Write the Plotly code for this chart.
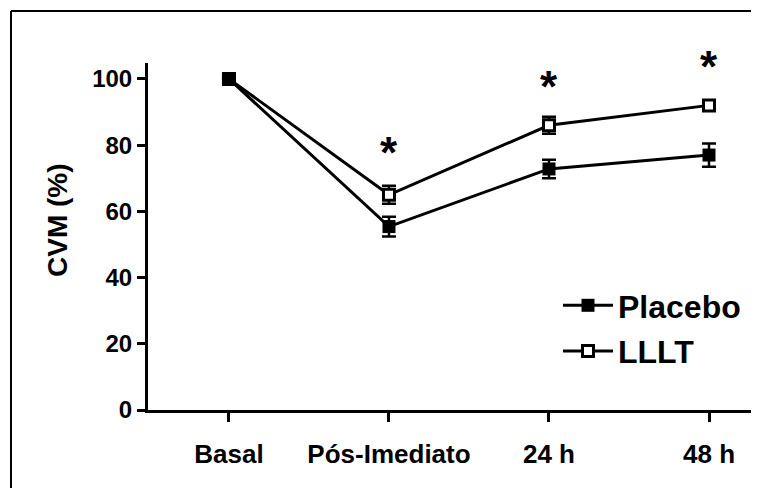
import plotly.graph_objects as go

categories = ["Basal", "Pós-Imediato", "24 h", "48 h"]
placebo = [100, 55.4, 72.8, 77.0]
placebo_err = [0, 3.0, 2.8, 3.5]
lllt = [100, 65.0, 86.0, 92.0]
lllt_err = [0, 2.7, 2.6, 1.2]
star_pos = [1, 2, 3]
star_y = [79.2, 99.2, 105.2]
y_title = "CVM (%)"

FONT = "Arial, Liberation Sans, sans-serif"
xs = list(range(len(categories)))
YMAX = 104.8

fig = go.Figure()
fig.add_trace(go.Scatter(
    x=xs, y=lllt, name="LLLT", mode="lines+markers",
    line=dict(color="black", width=3),
    marker=dict(symbol="square", size=11, color="white", line=dict(color="black", width=3)),
    error_y=dict(type="data", array=lllt_err, color="black", thickness=2.5, width=7),
    legendrank=2, legendgroup="b",
))
fig.add_trace(go.Scatter(
    x=xs, y=placebo, name="Placebo", mode="lines+markers",
    line=dict(color="black", width=3),
    marker=dict(symbol="square", size=13, color="black", line=dict(color="black", width=0)),
    error_y=dict(type="data", array=placebo_err, color="black", thickness=2.5, width=7),
    legendrank=1, legendgroup="a",
))

for xi, yi in zip(star_pos, star_y):
    fig.add_annotation(x=xi, xref="x", y=(yi - 1.5) / YMAX, yref="y domain",
                       text="<b>*</b>", showarrow=False,
                       font=dict(family=FONT, size=44, color="black"),
                       xanchor="center", yanchor="middle")

# page body margin (8px) shifts the figure; work in reference pixel coordinates
OFF = 8
W, H = 759, 488
plot_l, plot_r, plot_t, plot_b = 148 - OFF, 755 - OFF, 63 - OFF, 410 - OFF
l, r, t, b = plot_l, W - plot_r, plot_t, H - plot_b
pw, ph = plot_r - plot_l, plot_b - plot_t
def px(xref_px): return (xref_px - OFF - plot_l) / pw
def py(yref_px): return (plot_b - (yref_px - OFF)) / ph

fig.add_shape(type="line", xref="paper", yref="paper", x0=px(11), x1=px(820), y0=py(11), y1=py(11),
              line=dict(color="black", width=2))
fig.add_shape(type="line", xref="paper", yref="paper", x0=px(11), x1=px(11), y0=py(11), y1=py(560),
              line=dict(color="black", width=2))

# y axis title
fig.add_annotation(x=px(57), xref="paper", y=py(220), yref="paper", text="<b>" + y_title + "</b>",
                   textangle=-90, showarrow=False, xanchor="center", yanchor="middle",
                   font=dict(family=FONT, size=28, color="black"))

fig.update_layout(
    width=W, height=H, margin=dict(l=l, r=r, t=t, b=b),
    paper_bgcolor="white", plot_bgcolor="white",
    font=dict(family=FONT, color="black"),
    showlegend=True,
    legend=dict(x=px(558), y=py(278), xanchor="left", yanchor="top",
                font=dict(family=FONT, size=32, color="black", weight="bold"),
                bgcolor="rgba(0,0,0,0)", traceorder="grouped", tracegroupgap=1,
                itemwidth=50),
    xaxis=dict(range=[-0.506, 3.2875], tickvals=xs, ticktext=categories,
               showgrid=False, zeroline=False, showline=True, linecolor="black", linewidth=3,
               ticks="outside", ticklen=9, tickwidth=3, tickcolor="black",
               tickfont=dict(family=FONT, size=26, color="black", weight="bold"),
               ticklabelstandoff=10),
    yaxis=dict(range=[0, YMAX], tickvals=[0, 20, 40, 60, 80, 100],
               showgrid=False, zeroline=False, showline=True, linecolor="black", linewidth=3,
               ticks="outside", ticklen=8, tickwidth=3, tickcolor="black",
               tickfont=dict(family=FONT, size=24, color="black", weight="bold")),
)

fig.write_html("out.html")
